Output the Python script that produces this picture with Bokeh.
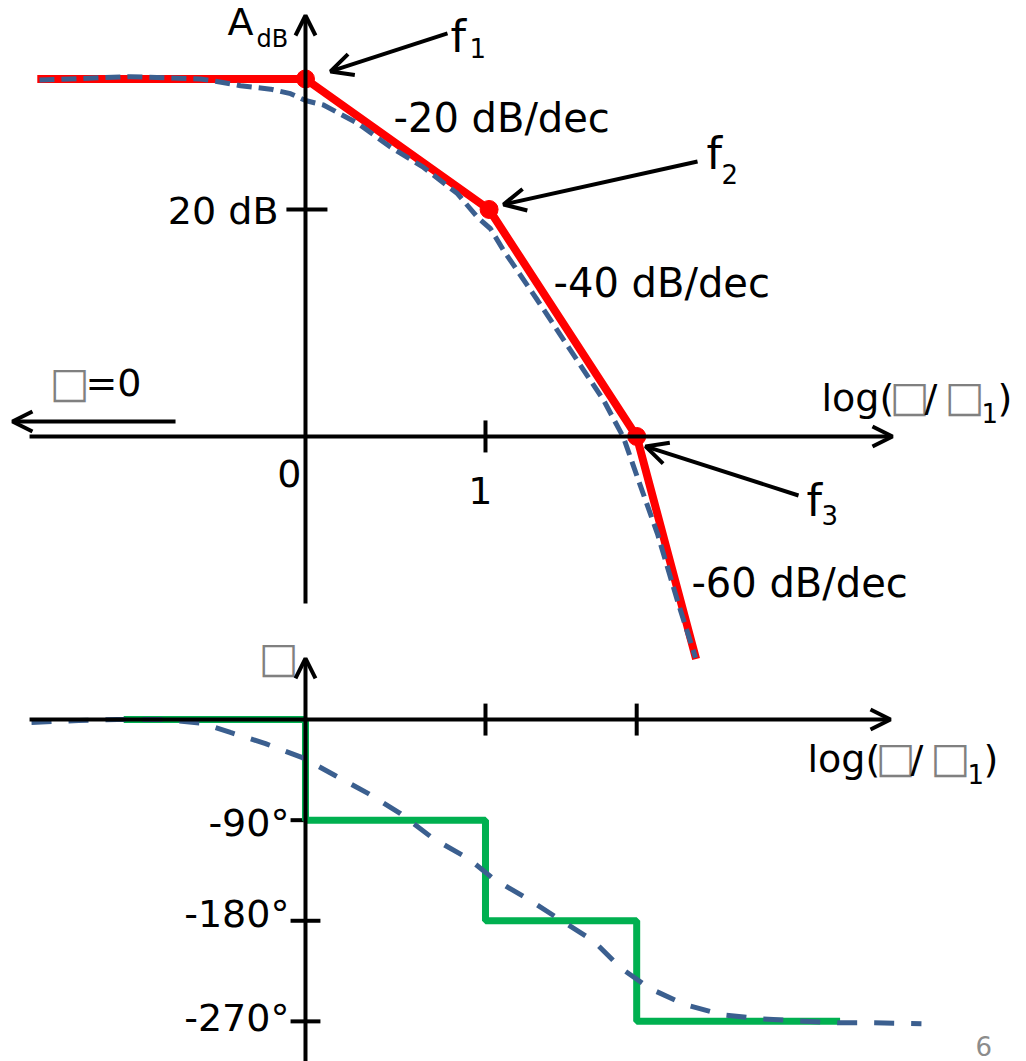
from bokeh.plotting import figure
from bokeh.models import Range1d, Arrow, OpenHead
from bokeh.core.properties import value
from bokeh.embed import file_html
from bokeh.resources import INLINE

# ---- data: Bode magnitude / phase of a three-pole amplifier ----
# x axis: log10(w / w1)
corner_log = [0.0, 1.02, 1.84]          # f1, f2, f3
corner_db = [31.5, 20.0, 0.0]

asym_log = [-1.49, 0.0, 1.02, 1.84, 2.17]
asym_db = [31.5, 31.5, 20.0, 0.0, -19.6]

mag_log = [-1.478, -1.139, -0.972, -0.583, -0.5, -0.361, -0.194, -0.083, 0.0,
           0.1, 0.289, 0.472, 0.656, 0.844, 0.956, 1.028, 1.1, 1.289, 1.472,
           1.656, 1.767, 1.844, 1.956, 2.067, 2.167]
mag_db = [31.4, 31.6, 31.7, 31.5, 31.3, 30.9, 30.6, 30.2, 29.6,
          29.2, 27.6, 25.5, 23.7, 21.4, 19.3, 18.3, 16.4, 12.0, 7.6,
          3.2, -0.1, -3.6, -8.6, -14.5, -19.5]

step_log = [-1.01, 0.0, 0.0, 1.0, 1.0, 1.84, 1.84, 2.97]
step_deg = [0, 0, -90, -90, -180, -180, -270, -270]

ph_log = [-1.522, -1.261, -1.044, -0.778, -0.567, -0.417, -0.222, -0.017, 0.167,
          0.35, 0.528, 0.711, 0.906, 1.044, 1.233, 1.406, 1.6, 1.75, 1.917,
          2.111, 2.317, 2.528, 2.739, 2.956, 3.156, 3.422]
ph_deg = [-2.6, -0.8, 0.0, 0.0, -3.5, -11.5, -21.5, -34.1, -50.2,
          -66.3, -84.2, -106.6, -124.5, -142.4, -160.3, -178.2, -197.9, -222.1, -240.9,
          -255.2, -264.1, -267.7, -269.5, -271.3, -271.3, -272.2]

mag_ticks_log = [1.0]
mag_ticks_db = [20]
ph_ticks_log = [1.0, 1.84]
ph_ticks_deg = [-90, -180, -270]
ph_tick_labels = ["-90°", "-180°", "-270°"]
slope_labels = ["-20 dB/dec", "-40 dB/dec", "-60 dB/dec"]

FONT = "DejaVu Sans"
BLACK = "#000000"
RED = "#ff0000"
GREEN = "#00b050"
BLUE = "#3b5f8f"
GRAY = "#808080"

# pixels per data unit on each vertical scale
PX_PER = {"default": 11.35, "ph": 1.1178}

p = figure(width=1026, height=1061, output_backend="svg", toolbar_location=None,
           x_range=Range1d(-1.6944, 4.0056), y_range=Range1d(-55.07, 38.41),
           x_axis_type=None, y_axis_type=None, min_border=0,
           outline_line_color=None, background_fill_color="white",
           border_fill_color="white")
p.extra_y_ranges = {"ph": Range1d(-305.9, 643.3)}


def arrow(x0, y0, x1, y1, size=20, rng="default"):
    p.add_layout(Arrow(end=OpenHead(size=size, line_width=4, line_color=BLACK),
                       x_start=x0, y_start=y0, x_end=x1, y_end=y1,
                       line_width=4, line_color=BLACK, y_range_name=rng))


def label(text, x, y, size=38, align="left", color=BLACK, rng="default"):
    # y is the text baseline; the glyph is drawn middle-anchored, so lift it
    # by roughly half the cap height
    yc = y + 0.38 * size / PX_PER[rng]
    p.text(x=[x], y=[yc], text=[text], text_font=value(FONT),
           text_font_size=value(f"{size}px"), text_color=color,
           text_align=align, text_baseline="middle", y_range_name=rng)


# ---- magnitude axes ----
arrow(-1.533, 0, 3.261, 0)                 # log axis
arrow(0, -14.71, 0, 37.09)                 # A_dB axis
arrow(-0.722, 1.32, -1.628, 1.32)          # towards w = 0
p.segment(x0=mag_ticks_log, y0=[-1.41] * len(mag_ticks_log),
          x1=mag_ticks_log, y1=[1.41] * len(mag_ticks_log),
          line_width=4, line_color=BLACK)
p.segment(x0=[-0.106] * len(mag_ticks_db), y0=mag_ticks_db,
          x1=[0.122] * len(mag_ticks_db), y1=mag_ticks_db,
          line_width=4, line_color=BLACK)

# ---- phase axes ----
arrow(-1.533, 0, 3.25, 0, rng="ph")
arrow(0, -305.9, 0, 54.7, rng="ph")
p.segment(x0=ph_ticks_log, y0=[-14.3] * len(ph_ticks_log),
          x1=ph_ticks_log, y1=[14.3] * len(ph_ticks_log),
          line_width=4, line_color=BLACK, y_range_name="ph")
p.segment(x0=[-0.083] * len(ph_ticks_deg), y0=ph_ticks_deg,
          x1=[0.0 if d == -90 else 0.083 for d in ph_ticks_deg], y1=ph_ticks_deg,
          line_width=4, line_color=BLACK, y_range_name="ph")

# ---- magnitude curves ----
p.line(asym_log, asym_db, line_width=8, line_color=RED)
p.scatter(corner_log, corner_db, size=18, color=RED)
p.line(mag_log, mag_db, line_width=5, line_color=BLUE, line_dash="15 7")

# ---- phase curves ----
p.line(step_log, step_deg, line_width=7, line_color=GREEN, y_range_name="ph")
p.line(ph_log, ph_deg, line_width=5, line_color=BLUE, line_dash="20 17",
       y_range_name="ph")

# ---- pointer arrows to the corner frequencies ----
arrow(0.789, 35.51, 0.139, 32.16, size=22)
arrow(2.178, 24.23, 1.10, 20.44, size=22)
arrow(2.739, -5.20, 1.889, -0.88, size=22)

# ---- texts ----
label("A", -0.433, 35.24, size=38)
label("dB", -0.272, 34.19, size=24)
label("20 dB", -0.15, 18.59, align="right")
for name, sub, fx, fy, sx, sy in [("f", "1", 0.806, 33.74, 0.911, 33.39),
                                  ("f", "2", 2.228, 23.44, 2.311, 22.29),
                                  ("f", "3", 2.783, -7.14, 2.867, -7.75)]:
    label(name, fx, fy, size=44)
    label(sub, sx, sy, size=26)

for txt, x, y in zip(slope_labels, [0.489, 1.378, 2.144], [26.70, 12.16, -14.27]):
    label(txt, x, y, size=40)

BOX = 42
label("□", -1.311, 3.35, size=BOX, align="center", color=GRAY)
label("=0", -1.222, 3.44)
label("0", -0.022, -4.58, align="right")
label("1", 0.972, -5.99, align="center")


def log_label(x0, y0, ysub, rng):
    label("log(", x0, y0, rng=rng)
    label("□", x0 + 0.489, y0, size=BOX, align="center", color=GRAY, rng=rng)
    label("/", x0 + 0.572, y0, rng=rng)
    label("□", x0 + 0.794, y0, size=BOX, align="center", color=GRAY, rng=rng)
    label("1", x0 + 0.889, ysub, size=26, rng=rng)
    label(")", x0 + 0.978, y0, rng=rng)


log_label(2.867, 2.11, 1.23, "default")
log_label(2.789, -48.0, -57.9, "ph")

label("□", -0.15, 41.2, size=BOX, align="center", color=GRAY, rng="ph")
for txt, d, yb in zip(ph_tick_labels, ph_ticks_deg, [-105.3, -186.7, -279.7]):
    label(txt, -0.089, yb, align="right", rng="ph")

label("6", 3.722, -54.54, size=26, color="#8c8c8c")

open("out.html", "w").write(file_html(p, INLINE))
